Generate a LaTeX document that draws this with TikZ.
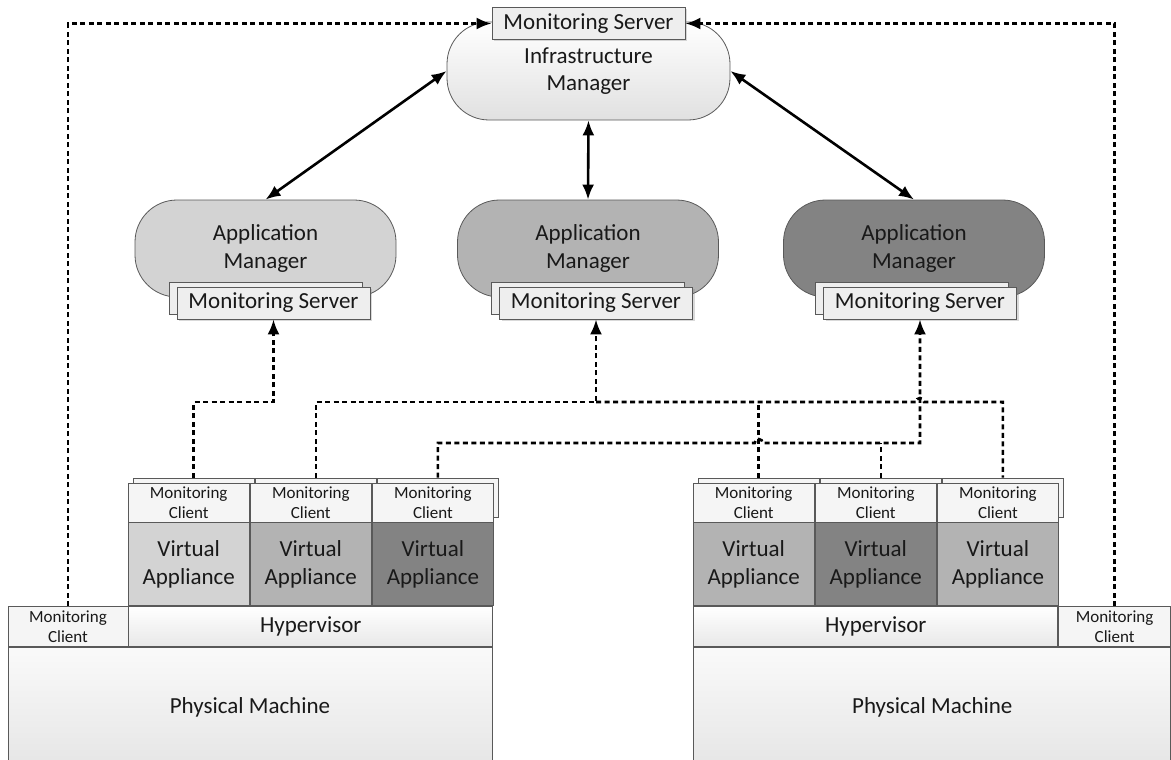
\documentclass[tikz,border=0pt]{standalone}
\usepackage{fontspec}
\setmainfont{Carlito}
\usetikzlibrary{arrows.meta,calc,positioning,shadows}

\definecolor{edgeGray}{HTML}{595959}
\definecolor{boxLight}{HTML}{EEEEEE}
\definecolor{shLight}{HTML}{D3D3D3}
\definecolor{shMid}{HTML}{B3B3B3}
\definecolor{shDark}{HTML}{838383}

\newcommand{\bigtxt}{\fontsize{23}{27.5}\selectfont}
\newcommand{\smalltxt}{\fontsize{17}{20}\selectfont}

\begin{document}
\begin{tikzpicture}[>={Latex[length=15pt,width=12pt]},x=1pt,y=-1pt,node distance=0pt,
  every node/.style={text=black!90,inner sep=0pt,align=center},
  mgr/.style={draw=edgeGray,line width=0.8pt,rounded corners=42pt,minimum width=261,minimum height=97,font=\bigtxt},
  srv/.style={draw=edgeGray,line width=0.8pt,fill=boxLight,minimum width=193,minimum height=32,font=\bigtxt,
    drop shadow={shadow xshift=2pt,shadow yshift=-2pt,opacity=.3}},
  srvstack/.style={srv,copy shadow={shadow xshift=-8pt,shadow yshift=5pt,fill=boxLight,draw=edgeGray,line width=0.8pt}},
  client/.style={draw=edgeGray,line width=0.8pt,fill=black!4,minimum width=121.3,minimum height=39,font=\smalltxt},
  clientstack/.style={client,copy shadow={shadow xshift=5pt,shadow yshift=5pt,fill=black!4,draw=edgeGray,line width=0.8pt}},
  vabox/.style={draw=edgeGray,line width=0.8pt,minimum width=121.3,minimum height=83,font=\bigtxt},
  hyp/.style={draw=edgeGray,line width=0.8pt,top color=white,bottom color=black!9,minimum height=40,font=\bigtxt},
  pmbox/.style={draw=edgeGray,line width=0.8pt,top color=black!2,bottom color=black!10,minimum height=120,anchor=north west,font=\bigtxt},
  link/.style={line width=2.6pt,<->},
  mon/.style={line width=2.6pt,dash pattern=on 5pt off 3.5pt}]

  \clip (0,0) rectangle (1171,760);

  % managers
  \node[mgr,top color=white,bottom color=black!12,minimum width=283,minimum height=98] (im) at (588.5,71) {Infrastructure\\Manager};
  \node[srv] (imsrv) at (588.5,23.5) {Monitoring Server};

  \node[mgr,fill=shLight] (am1) at (265.5,248.5) {Application\\Manager};
  \node[mgr,fill=shMid] (am2) at (588,248.5) {Application\\Manager};
  \node[mgr,fill=shDark] (am3) at (914,248.5) {Application\\Manager};
  \node[srvstack] (srv1) at (273.5,303) {Monitoring Server};
  \node[srvstack] (srv2) at (596,303) {Monitoring Server};
  \node[srvstack] (srv3) at (920,303) {Monitoring Server};

  % left machine
  \node[clientstack] (cl1) at (188.7,502.5) {Monitoring\\Client};
  \node[clientstack,right=of cl1] (cl2) {Monitoring\\Client};
  \node[clientstack,right=of cl2] (cl3) {Monitoring\\Client};
  \node[vabox,fill=shLight,below=of cl1] (val1) {Virtual\\Appliance};
  \node[vabox,fill=shMid,below=of cl2] (val2) {Virtual\\Appliance};
  \node[vabox,fill=shDark,below=of cl3] (val3) {Virtual\\Appliance};
  \node[hyp,minimum width=364,below=of val2] (hypL) {Hypervisor};
  \node[client,minimum width=120,minimum height=40,left=of hypL] (mcL) {Monitoring\\Client};
  \node[pmbox,minimum width=484] (pmL) at (mcL.south west) {Physical Machine};

  % right machine
  \node[clientstack] (cr1) at (753.7,502.5) {Monitoring\\Client};
  \node[clientstack,right=of cr1] (cr2) {Monitoring\\Client};
  \node[clientstack,right=of cr2] (cr3) {Monitoring\\Client};
  \node[vabox,fill=shMid,below=of cr1] (var1) {Virtual\\Appliance};
  \node[vabox,fill=shDark,below=of cr2] (var2) {Virtual\\Appliance};
  \node[vabox,fill=shMid,below=of cr3] (var3) {Virtual\\Appliance};
  \node[hyp,minimum width=364,below=of var2] (hypR) {Hypervisor};
  \node[client,minimum width=112,minimum height=40,right=of hypR] (mcR) {Monitoring\\Client};
  \node[pmbox,minimum width=477] (pmR) at (hypR.south west) {Physical Machine};

  % manager links
  \draw[link] (am1.north) -- (im.west);
  \draw[link] (am2.north) -- (im.south);
  \draw[link] (am3.north) -- (im.east);

  % monitoring links
  \foreach \c in {cl1,cl2,cl3,cr1,cr2,cr3}
    \coordinate (t\c) at ([xshift=5pt,yshift=5pt]\c.north);
  \coordinate (busA) at (0,402);
  \coordinate (busB) at (0,443);

  \draw[mon,->] (mcL.north) |- (imsrv.west);
  \draw[mon,->] (mcR.north) |- (imsrv.east);

  \draw[mon,->] (tcl1) |- (srv1.south |- busA) -- (srv1.south);
  \draw[mon,->] (tcl2) |- (srv2.south |- busA) -- (srv2.south);
  \draw[mon] (srv2.south |- busA) -- ($(srv3.south |- busA)+(-4,0)$)
    arc[start angle=180,end angle=0,radius=4pt] -- (tcr3 |- busA) -- (tcr3);
  \draw[mon] (tcr1) -- (tcr1 |- busA);
  \draw[mon,->] (tcl3) |- ($(tcr1 |- busB)+(-4,0)$)
    arc[start angle=180,end angle=0,radius=4pt] -- (srv3.south |- busB) -- (srv3.south);
  \draw[mon] (tcr2) -- (tcr2 |- busB);
\end{tikzpicture}
\end{document}
